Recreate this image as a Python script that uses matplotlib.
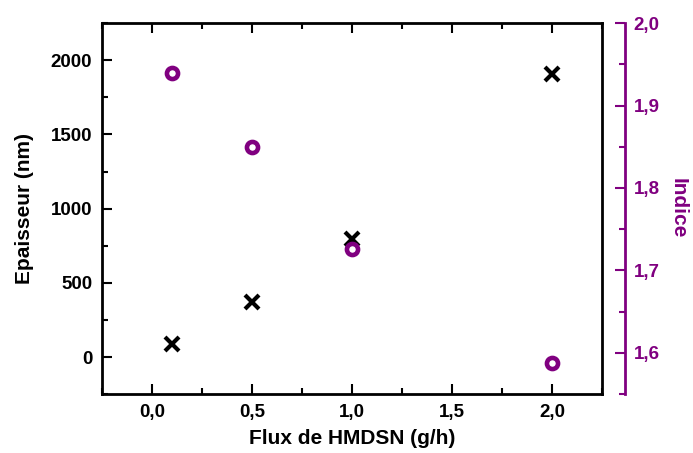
import matplotlib.pyplot as plt
from matplotlib.ticker import MultipleLocator, FuncFormatter

plt.rcParams['font.family'] = ['Liberation Sans', 'DejaVu Sans']
plt.rcParams['font.weight'] = 'bold'

flux = [0.1, 0.5, 1.0, 2.0]
epaisseur = [87, 370, 795, 1906]
indice = [1.940, 1.850, 1.726, 1.588]

purple = '#800080'

def comma(v, pos):
    return ('%.1f' % v).replace('.', ',')

fig = plt.figure(figsize=(6.93, 4.53), dpi=100)
ax = fig.add_axes([0.147, 0.130, 0.722, 0.819])

ax.plot(flux, epaisseur, linestyle='none', marker='x', color='black',
        markersize=10, markeredgewidth=3)
ax.set_xlim(-0.25, 2.25)
ax.set_ylim(-250, 2250)
ax.xaxis.set_major_locator(MultipleLocator(0.5))
ax.xaxis.set_minor_locator(MultipleLocator(0.25))
ax.yaxis.set_major_locator(MultipleLocator(500))
ax.yaxis.set_minor_locator(MultipleLocator(250))
ax.xaxis.set_major_formatter(FuncFormatter(comma))
ax.tick_params(which='both', direction='in', top=True, right=True, width=1.5)
ax.tick_params(which='major', length=7, labelsize=13.5, pad=7)
ax.tick_params(which='minor', length=4)
for s in ax.spines.values():
    s.set_linewidth(2)
ax.set_xlabel('Flux de HMDSN (g/h)', fontsize=15, fontweight='bold', labelpad=6)
ax.set_ylabel('Epaisseur (nm)', fontsize=15, fontweight='bold', labelpad=12)

ax2 = ax.twinx()
ax2.plot(flux, indice, linestyle='none', marker='o', markerfacecolor='white',
         markeredgecolor=purple, markersize=8, markeredgewidth=3.3)
ax2.set_ylim(1.55, 2.0)
ax2.yaxis.set_major_locator(MultipleLocator(0.1))
ax2.yaxis.set_minor_locator(MultipleLocator(0.05))
ax2.yaxis.set_major_formatter(FuncFormatter(comma))
for k in ['left', 'top', 'bottom']:
    ax2.spines[k].set_visible(False)
ax2.spines['right'].set_position(('outward', 16.5))
ax2.spines['right'].set_color(purple)
ax2.spines['right'].set_linewidth(2)
ax2.tick_params(which='both', direction='in', colors=purple, width=1.5)
ax2.tick_params(which='major', length=7, labelsize=13.5, pad=6)
ax2.tick_params(which='minor', length=4)
ax2.set_ylabel('Indice', color=purple, fontsize=15, fontweight='bold',
               rotation=-90, labelpad=20)

fig.savefig('out.png', dpi=100)
